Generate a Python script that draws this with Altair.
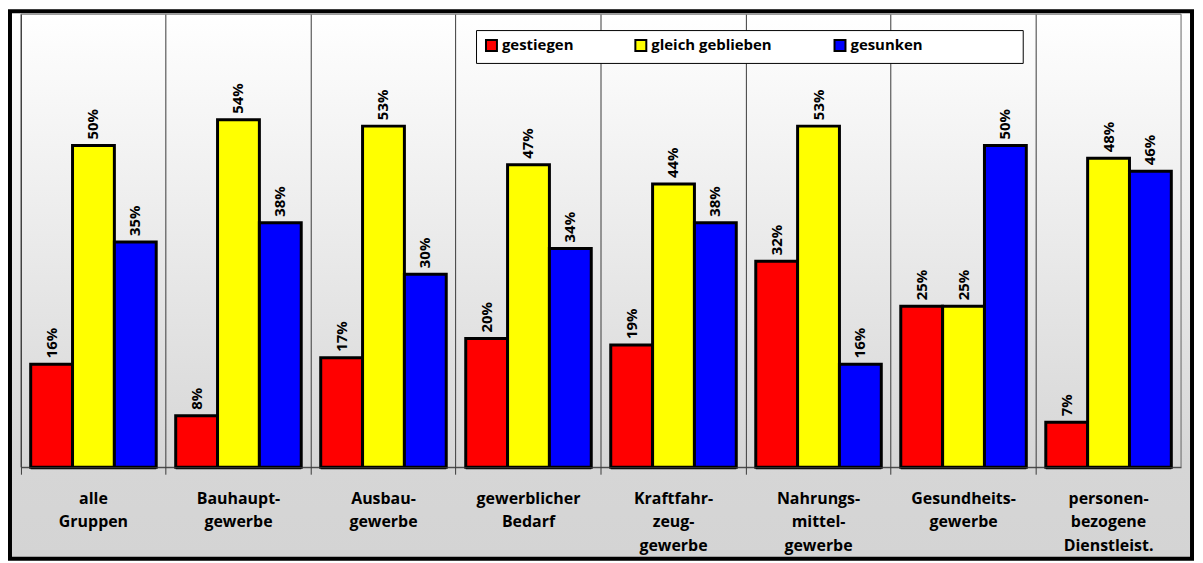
import altair as alt
import pandas as pd

categories = ["alle|Gruppen", "Bauhaupt-|gewerbe", "Ausbau-|gewerbe", "gewerblicher|Bedarf",
              "Kraftfahr-|zeug-|gewerbe", "Nahrungs-|mittel-|gewerbe", "Gesundheits-|gewerbe",
              "personen-|bezogene|Dienstleist."]
series = ["gestiegen", "gleich geblieben", "gesunken"]
gestiegen = [16, 8, 17, 20, 19, 32, 25, 7]
gleich_geblieben = [50, 54, 53, 47, 44, 53, 25, 48]
gesunken = [35, 38, 30, 34, 38, 16, 50, 46]
colors = ["#ff0000", "#ffff00", "#0000ff"]

rows = []
for i, c in enumerate(categories):
    for s, vals in zip(series, [gestiegen, gleich_geblieben, gesunken]):
        rows.append({"Gruppe": c, "Entwicklung": s, "Anteil": vals[i]})
df = pd.DataFrame(rows)
one = pd.DataFrame({"k": [0]})

W, H = 1165, 455
FONT = "Open Sans"

x = alt.X("Gruppe:N", sort=categories,
          scale=alt.Scale(paddingInner=0, paddingOuter=0),
          axis=alt.Axis(title=None, bandPosition=0, grid=True, gridColor="#3a3a3a", gridWidth=1,
                        tickColor="#3a3a3a", tickSize=7, domainColor="#3a3a3a", labelAngle=0,
                        labelExpr="split(datum.label, '|')",
                        labelLineHeight=24, labelFont=FONT, labelFontSize=16,
                        labelFontWeight="bold", labelColor="black", labelPadding=16,
                        labelBaseline="top", labelLimit=0, labelOverlap=False, zindex=1))
xo = alt.XOffset("Entwicklung:N", sort=series,
                 scale=alt.Scale(paddingInner=0, paddingOuter=0.233))
y = alt.Y("Anteil:Q", scale=alt.Scale(domain=[0, 70.4]), axis=None)

gradient = alt.LinearGradient(
    gradient="linear", x1=0, y1=0, x2=0, y2=1,
    stops=[alt.GradientStop(offset=0, color="#ffffff"),
           alt.GradientStop(offset=0.83, color="#d6d6d6"),
           alt.GradientStop(offset=1, color="#d4d4d4")])

bg = alt.Chart(one).mark_rect(fill=gradient, stroke="black", strokeWidth=4).encode(
    x=alt.value(-11), x2=alt.value(1176), y=alt.value(-3), y2=alt.value(547))

border = alt.Chart(one).mark_rect(fill="transparent", stroke="#666666", strokeWidth=1).encode(
    x=alt.value(0), x2=alt.value(W), y=alt.value(0), y2=alt.value(H))

base = alt.Chart(df)

shadow = base.mark_bar(color="black", xOffset=4, yOffset=2).encode(x=x, xOffset=xo, y=y)

bars = base.mark_bar(stroke="black", strokeWidth=3).encode(
    x=x, xOffset=xo, y=y,
    color=alt.Color("Entwicklung:N", sort=series,
                    scale=alt.Scale(domain=series, range=colors),
                    legend=alt.Legend(title="\u00a0", titleOrient="right", titlePadding=92,
                                      orient="none", legendX=457, legendY=16,
                                      direction="horizontal", symbolType="square",
                                      symbolSize=121, symbolStrokeColor="black",
                                      symbolStrokeWidth=2, labelFont=FONT, labelFontSize=15,
                                      labelFontWeight="bold", labelColor="black",
                                      labelOffset=3, columnPadding=58, padding=8,
                                      fillColor="white", strokeColor="black", zindex=2)))

labels = base.transform_calculate(
    label="format(datum.Anteil, 'd') + '%'"
).mark_text(angle=270, align="left", baseline="middle", dx=6, font=FONT, fontSize=15,
            fontWeight="bold", color="black").encode(x=x, xOffset=xo, y=y, text="label:N")

chart = alt.layer(bg, border, shadow, bars, labels).properties(
    width=W, height=H,
    autosize=alt.AutoSizeParams(type="none"),
    padding={"left": 13, "top": 5, "right": 14, "bottom": 95},
    background="white",
).configure_view(stroke="transparent")

chart.save("out.html", embed_options={"renderer": "svg", "actions": False})
